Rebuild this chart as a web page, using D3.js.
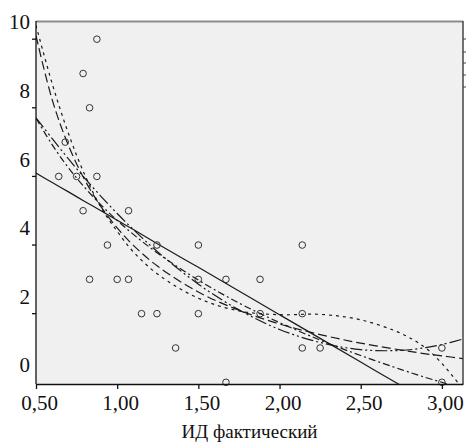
<!DOCTYPE html>
<html>
<head>
<meta charset="utf-8">
<script src="https://cdn.jsdelivr.net/npm/d3@7.9.0/dist/d3.min.js"></script>
<style>
  body { margin: 0; background: #fff; }
  svg text { font-family: "Liberation Serif", "DejaVu Serif", "Times New Roman", serif !important; fill: #111; }
</style>
</head>
<body>
<svg id="chart" width="466" height="444"></svg>
<script>
// observed points (ИД фактический, value)
const obsX = [0.64, 0.68, 0.75, 0.79, 0.79, 0.83, 0.83, 0.875, 0.875, 0.94,
              1.0, 1.07, 1.07, 1.15, 1.245, 1.245, 1.36, 1.5, 1.5, 1.5,
              1.67, 1.67, 1.88, 1.88, 2.14, 2.14, 2.14, 2.25, 3.0, 3.0];
const obsY = [5.5, 6.5, 5.5, 8.5, 4.5, 7.5, 2.5, 9.5, 5.5, 3.5,
              2.5, 4.5, 2.5, 1.5, 3.5, 1.5, 0.5, 3.5, 2.5, 1.5,
              2.5, -0.5, 2.5, 1.5, 3.5, 1.5, 0.5, 0.5, 0.5, -0.5];

// fitted curves at these x positions
const fitX      = [0.5, 0.6, 0.7, 0.8, 0.9, 1.0, 1.1, 1.25, 1.5, 1.75, 2.0, 2.25, 2.5, 2.75, 2.9, 3.0, 3.13];
const linearFit = [5.6, 5.32, 5.05, 4.77, 4.5, 4.22, 3.95, 3.53, 2.85, 2.16, 1.47, 0.78, 0.09, -0.6, -1.01, -1.29, -1.65];
const inverseFit= [9.6, 7.73, 6.4, 5.4, 4.62, 4.0, 3.49, 2.88, 2.13, 1.6, 1.2, 0.89, 0.64, 0.44, 0.33, 0.27, 0.19];
const logFit    = [7.2, 6.42, 5.75, 5.18, 4.67, 4.22, 3.81, 3.26, 2.48, 1.81, 1.24, 0.73, 0.28, -0.13, -0.36, -0.5, -0.69];
const quadFit   = [7.21, 6.6, 6.01, 5.45, 4.92, 4.42, 3.95, 3.3, 2.36, 1.61, 1.04, 0.66, 0.45, 0.43, 0.51, 0.6, 0.76];
const cubicFit  = [9.9, 8.2, 6.75, 5.55, 4.6, 3.9, 3.3, 2.65, 1.95, 1.58, 1.47, 1.48, 1.32, 0.92, 0.5, 0.05, -0.7];

const xTicks = [0.5, 1.0, 1.5, 2.0, 2.5, 3.0];
const yLabels = [0, 2, 4, 6, 8, 10];
const yTickMarks = [1.5, 3.5, 5.5, 7.5, 9.5];
const xTitle = 'ИД фактический';

const serif = '"Liberation Serif", "DejaVu Serif", "Times New Roman", serif';
const plotLeft = 36, plotTop = 21, plotRight = 463, plotBottom = 384;
const svg = d3.select('#chart');

const x = d3.scaleLinear().domain([0.5, 3.13]).range([plotLeft, plotRight]);
const y = d3.scaleLinear().domain([-0.55, 10.03]).range([plotBottom, plotTop]);

// plot background
svg.append('rect')
  .attr('x', plotLeft).attr('y', plotTop)
  .attr('width', plotRight - plotLeft).attr('height', plotBottom - plotTop)
  .attr('fill', '#f0f0f0');

svg.append('clipPath').attr('id', 'clip')
  .append('rect')
  .attr('x', plotLeft).attr('y', plotTop)
  .attr('width', plotRight - plotLeft).attr('height', plotBottom - plotTop);

const plot = svg.append('g').attr('clip-path', 'url(#clip)');

// fit lines
const fits = [
  { values: linearFit, dash: null },
  { values: inverseFit, dash: '9,4' },
  { values: logFit, dash: '7,3,2,3' },
  { values: quadFit, dash: '12,3,2,3,2,3' },
  { values: cubicFit, dash: '3,4' }
];
const line = d3.line()
  .x(d => x(d[0]))
  .y(d => y(d[1]))
  .curve(d3.curveCatmullRom);

fits.forEach(f => {
  plot.append('path')
    .attr('d', line(fitX.map((v, i) => [v, f.values[i]])))
    .attr('fill', 'none')
    .attr('stroke', '#1a1a1a')
    .attr('stroke-width', 1.2)
    .attr('stroke-dasharray', f.dash);
});

// points
svg.append('g').selectAll('circle')
  .data(obsX.map((v, i) => [v, obsY[i]]))
  .join('circle')
  .attr('cx', d => x(d[0]))
  .attr('cy', d => y(d[1]))
  .attr('r', 3.3)
  .attr('fill', 'none')
  .attr('stroke', '#333')
  .attr('stroke-width', 1);

// frame
svg.append('line')
  .attr('x1', plotLeft).attr('x2', plotRight).attr('y1', plotTop + 0.5).attr('y2', plotTop + 0.5)
  .attr('stroke', '#8c8c8c').attr('stroke-width', 2);
svg.append('line')
  .attr('x1', plotRight).attr('x2', plotRight).attr('y1', plotTop).attr('y2', plotBottom)
  .attr('stroke', '#444').attr('stroke-width', 1.5);
[39, 52, 63, 75, 87].forEach(py => {
  svg.append('line')
    .attr('x1', plotRight).attr('x2', plotRight + 3).attr('y1', py).attr('y2', py)
    .attr('stroke', '#444').attr('stroke-width', 1);
});

// x axis
const xAxis = svg.append('g')
  .attr('transform', `translate(0,${plotBottom})`)
  .call(d3.axisBottom(x).tickValues(xTicks).tickSize(5).tickSizeOuter(0)
    .tickFormat(d => d3.format('.2f')(d).replace('.', ',')));
xAxis.attr('font-family', null);
xAxis.select('.domain').attr('stroke', '#111').attr('stroke-width', 1.3);
xAxis.selectAll('.tick line').attr('stroke', '#111').attr('stroke-width', 1.3);
xAxis.selectAll('.tick text')
  .attr('font-size', 21).attr('dx', 3).attr('dy', 18)
  .style('font-family', serif).attr('fill', '#111');

// y axis: labels and tick marks sit at different heights in the original
svg.append('line')
  .attr('x1', plotLeft).attr('x2', plotLeft).attr('y1', plotTop).attr('y2', plotBottom)
  .attr('stroke', '#111').attr('stroke-width', 1.3);
yTickMarks.forEach(v => {
  svg.append('line')
    .attr('x1', plotLeft - 4).attr('x2', plotLeft).attr('y1', y(v)).attr('y2', y(v))
    .attr('stroke', '#111').attr('stroke-width', 1.3);
});
yLabels.forEach(v => {
  svg.append('text')
    .attr('x', 30).attr('y', y(v))
    .attr('dy', '0.35em')
    .attr('text-anchor', 'end')
    .attr('font-size', 21)
    .style('font-family', serif)
    .text(v);
});

svg.append('text')
  .attr('x', (plotLeft + plotRight) / 2).attr('y', 438)
  .attr('text-anchor', 'middle')
  .attr('font-size', 19)
  .style('font-family', serif)
  .text(xTitle);
</script>
</body>
</html>
